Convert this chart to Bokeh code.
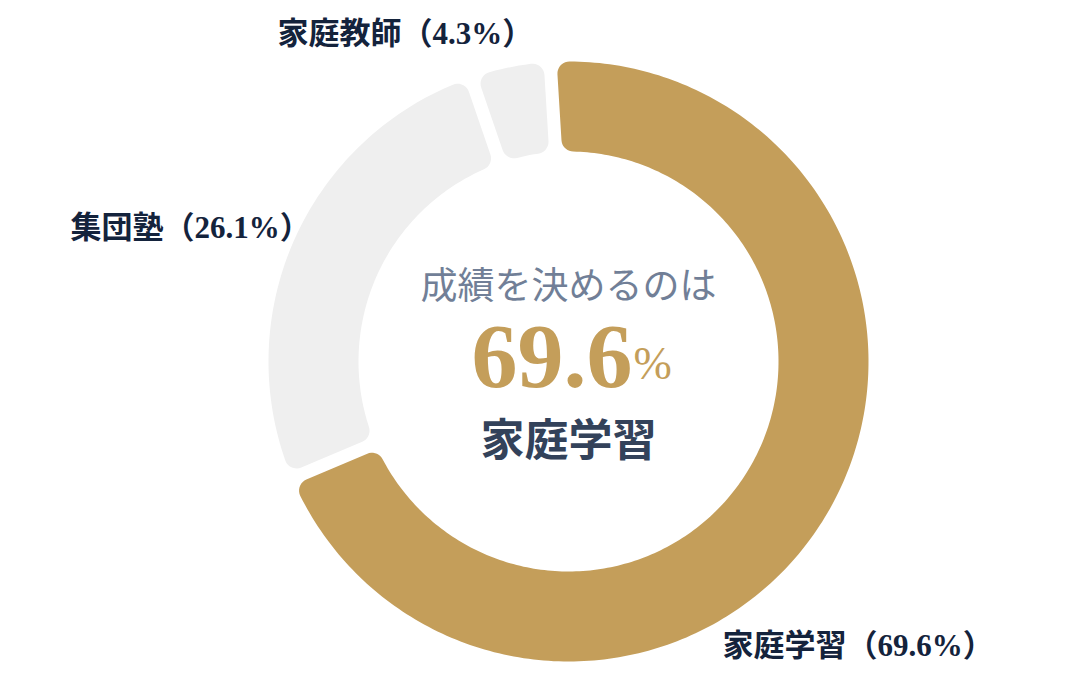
import math
import numpy as np
from bokeh.plotting import figure
from bokeh.models import Range1d, ColumnDataSource
from bokeh.core.properties import value
from bokeh.embed import file_html
from bokeh.resources import INLINE

# ---------------- data ----------------
categories = ["家庭学習", "集団塾", "家庭教師"]
values = [69.6, 26.1, 4.3]
colors = ["#C49E5A", "#EFEFEF", "#EFEFEF"]
headline = "成績を決めるのは"

# ---------------- layout / style ----------------
W, H = 1066, 664
ORIGIN = 0                   # page offset of the figure
CX, CY = 568, 361            # donut centre in page pixels
R_OUT, R_IN = 300, 210
START_DEG = -3.5             # clockwise from 12 o'clock
HALF_GAP = 6.5
CORNER = 12
SERIF = value("'Liberation Serif', 'Noto Sans CJK JP', serif")
SANS = value("'Noto Sans CJK JP', sans-serif")
LABEL_COLOR = "#14233C"

# label anchors (page px, left edge / vertical middle)
label_anchor = [(722, 645), (70, 227), (277, 33)]


def px(x):
    return x - CX


def py(y):
    return CY - y


def fillet(c, p0, p1, n=10):
    b0 = math.atan2(p0[1] - c[1], p0[0] - c[0])
    b1 = math.atan2(p1[1] - c[1], p1[0] - c[0])
    d = (b1 - b0 + math.pi) % (2 * math.pi) - math.pi
    r = math.hypot(p0[0] - c[0], p0[1] - c[1])
    return [(c[0] + r * math.cos(b0 + d * t), c[1] + r * math.sin(b0 + d * t))
            for t in np.linspace(0, 1, n)]


def arc(r, a0, a1):
    n = max(4, int(abs(a1 - a0) * 60))
    return [(r * math.cos(a), r * math.sin(a)) for a in np.linspace(a0, a1, n)]


def corner(u, n, rcr, r_arc):
    g, rc = HALF_GAP, CORNER
    d = math.sqrt(rcr ** 2 - (g + rc) ** 2)
    c = (d * u[0] + (g + rc) * n[0], d * u[1] + (g + rc) * n[1])
    pe = (d * u[0] + g * n[0], d * u[1] + g * n[1])
    m = math.hypot(*c)
    pa = (c[0] / m * r_arc, c[1] / m * r_arc)
    return c, pe, pa


def segment(t1, t2):
    a1 = math.radians(90 - t1)
    a2 = math.radians(90 - t2)
    u1 = (math.cos(a1), math.sin(a1))
    n1 = (math.sin(a1), -math.cos(a1))
    u2 = (math.cos(a2), math.sin(a2))
    n2 = (-math.sin(a2), math.cos(a2))
    co1, pe_o1, pa_o1 = corner(u1, n1, R_OUT - CORNER, R_OUT)
    ci1, pe_i1, pa_i1 = corner(u1, n1, R_IN + CORNER, R_IN)
    co2, pe_o2, pa_o2 = corner(u2, n2, R_OUT - CORNER, R_OUT)
    ci2, pe_i2, pa_i2 = corner(u2, n2, R_IN + CORNER, R_IN)
    pts = [pe_i1]
    pts += fillet(co1, pe_o1, pa_o1)
    ang1 = math.atan2(pa_o1[1], pa_o1[0])
    ang2 = math.atan2(pa_o2[1], pa_o2[0])
    while ang2 > ang1:
        ang2 -= 2 * math.pi
    pts += arc(R_OUT, ang1, ang2)
    pts += fillet(co2, pa_o2, pe_o2)
    pts += fillet(ci2, pe_i2, pa_i2)
    bi2 = math.atan2(pa_i2[1], pa_i2[0])
    bi1 = math.atan2(pa_i1[1], pa_i1[0])
    while bi1 < bi2:
        bi1 += 2 * math.pi
    pts += arc(R_IN, bi2, bi1)
    pts += fillet(ci1, pa_i1, pe_i1)
    return [p[0] for p in pts], [p[1] for p in pts]


total = sum(values)
xs, ys = [], []
t = START_DEG
for v in values:
    span = v / total * 360.0
    sx, sy = segment(t, t + span)
    xs.append(sx)
    ys.append(sy)
    t += span

p = figure(width=W, height=H, output_backend="svg", toolbar_location=None,
           x_range=Range1d(ORIGIN - CX, ORIGIN + W - CX),
           y_range=Range1d(CY - ORIGIN - H, CY - ORIGIN),
           min_border=0, outline_line_color=None, background_fill_color="white",
           border_fill_color="white")
p.axis.visible = False
p.grid.visible = False

src = ColumnDataSource(dict(xs=xs, ys=ys, color=colors, cat=categories))
p.patches("xs", "ys", source=src, fill_color="color", line_color=None)

# outer labels
lab = ColumnDataSource(dict(
    x=[px(a[0]) for a in label_anchor],
    y=[py(a[1]) for a in label_anchor],
    text=[f"{c}（{v}%）" for c, v in zip(categories, values)],
))
p.text("x", "y", text="text", source=lab, text_font=SERIF, text_font_style="bold",
       text_font_size="31px", text_color=LABEL_COLOR, text_align="left",
       text_baseline="middle")

# centre texts
p.text([0], [py(282)], text=[headline], text_font=SANS, text_font_size="37px",
       text_color="#717F97", text_align="center", text_baseline="middle")
p.text([px(632)], [py(356)], text=[f"{values[0]}"], text_font=SERIF,
       text_font_style="bold", text_font_size="92px", text_color=colors[0],
       text_align="right", text_baseline="alphabetic")
p.text([px(633)], [py(363)], text=["%"], text_font=SERIF,
       text_font_size="46px", text_color=colors[0],
       text_align="left", text_baseline="alphabetic")
p.text([0], [py(436)], text=[categories[0]], text_font=SANS, text_font_style="bold",
       text_font_size="44px", text_color="#33425A", text_align="center",
       text_baseline="middle")

open("out.html", "w").write(file_html(p, INLINE))
